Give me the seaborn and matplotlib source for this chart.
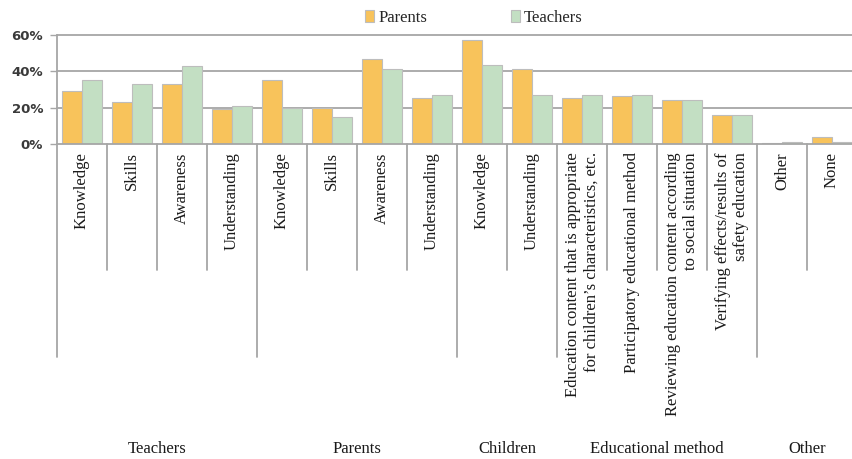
import numpy as np
import pandas as pd
import matplotlib
matplotlib.use("Agg")
import matplotlib.pyplot as plt
from matplotlib.transforms import blended_transform_factory
import seaborn as sns

# Category structure
groups = ["Teachers", "Parents", "Children", "Educational method", "Other"]
group_sizes = [4, 4, 2, 4, 2]
items = [
    "Knowledge", "Skills", "Awareness", "Understanding",
    "Knowledge", "Skills", "Awareness", "Understanding",
    "Knowledge", "Understanding",
    "Education content that is appropriate\nfor children\u2019s characteristics, etc.",
    "Participatory educational method",
    "Reviewing education content according\nto social situation",
    "Verifying effects/results of\nsafety education",
    "Other", "None",
]

# Percentages by respondent type
series = ["Parents", "Teachers"]
parents = [29, 23, 33, 19.5, 35, 20, 47, 25.5, 57, 41.5, 25.5, 26.3, 24.3, 15.8, 0.5, 4]
teachers = [35, 33, 43, 21, 20, 15, 41.5, 27, 43.5, 27, 26.8, 27, 24, 16, 1, 1]
y_ticks = [0, 20, 40, 60]

colors = ["#F8C35B", "#C3DFC3"]
line_col = "#A6A6A6"

keys = [f"c{i:02d}" for i in range(len(items))]
df = pd.DataFrame({
    "key": keys * 2,
    "value": parents + teachers,
    "who": [series[0]] * len(keys) + [series[1]] * len(keys),
})

sns.set_style("white")
plt.rcParams["font.family"] = ["Liberation Serif", "DejaVu Serif"]

fig = plt.figure(figsize=(8.53, 4.59), dpi=100)
W, H = 853, 459
ax = fig.add_axes([57 / W, (H - 144) / H, 800 / W, 109 / H])

sns.barplot(data=df, x="key", y="value", hue="who", order=keys,
            hue_order=series, palette=colors, width=0.8,
            edgecolor="#BDBDBD", linewidth=0.8, saturation=1, ax=ax)

ax.set_xlim(-0.5, len(keys) - 0.5)
ax.set_ylim(0, 60)
ax.set_xlabel("")
ax.set_ylabel("")

# horizontal gridlines
for v in y_ticks[1:]:
    ax.axhline(v, color=line_col, lw=1.3, zorder=0.5, clip_on=False)

for s in ["top", "right"]:
    ax.spines[s].set_visible(False)
ax.spines["left"].set_color(line_col)
ax.spines["left"].set_linewidth(1.3)
ax.spines["bottom"].set_color(line_col)
ax.spines["bottom"].set_linewidth(1.3)

ax.set_yticks(y_ticks)
ax.set_yticklabels([f"{v}%" for v in y_ticks], family="DejaVu Sans",
                   fontweight="bold", fontsize=9.5, color="#3a3a3a")
ax.tick_params(axis="y", length=5, width=1, color=line_col, pad=5, left=True)

ax.set_xticks(range(len(keys)))
ax.set_xticklabels(items, rotation=90, va="top", ha="center",
                   multialignment="right", fontsize=12, color="#1a1a1a")
ax.tick_params(axis="x", length=0, pad=6)

# category separators below the axis
trans = blended_transform_factory(ax.transData, ax.transAxes)
bounds = np.cumsum([0] + group_sizes)
for k in range(len(keys) + 1):
    x = k - 0.5
    bottom = -1.954 if k in bounds else -1.156
    ax.plot([x, x], [0, bottom], color=line_col, lw=1.3,
            transform=trans, clip_on=False)

# group labels
for g, a, b in zip(groups, bounds[:-1], bounds[1:]):
    xc = (a + b) / 2 - 0.5
    ax.text(xc, -2.80, g, transform=trans, ha="center", va="center",
            fontsize=12, color="#1a1a1a")

# legend at the top
handles, labels = ax.get_legend_handles_labels()
ax.get_legend().remove()
fig.legend(handles, labels, loc="center", ncol=2,
           bbox_to_anchor=(474 / W, 1 - 18 / H), frameon=False,
           fontsize=12, handlelength=0.55, handleheight=0.7,
           handletextpad=0.25, columnspacing=5.0)

fig.savefig("out.png", dpi=100)
